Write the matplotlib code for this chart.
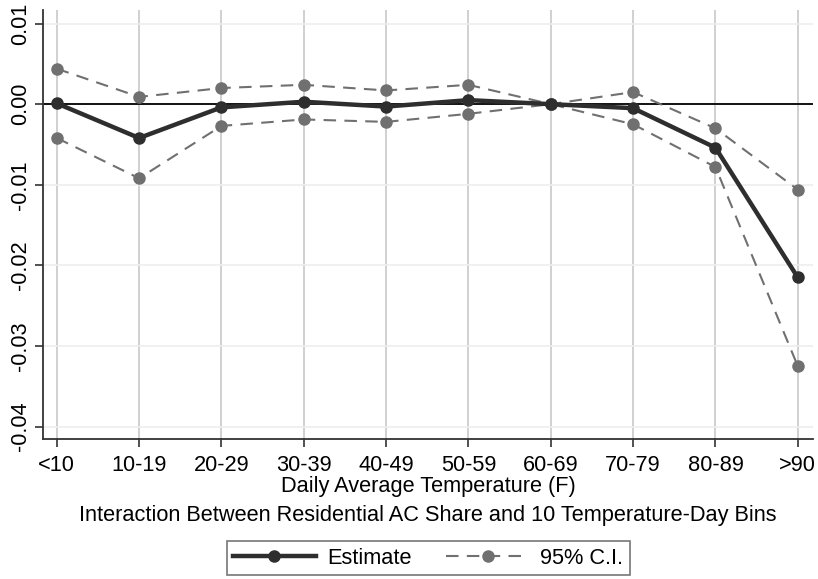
import numpy as np
import matplotlib
matplotlib.use("Agg")
import matplotlib.pyplot as plt

plt.rcParams['font.family'] = ['Liberation Sans', 'DejaVu Sans']

bins = ["<10", "10-19", "20-29", "30-39", "40-49", "50-59", "60-69", "70-79", "80-89", ">90"]
estimate = [0.0001, -0.0042, -0.0004, 0.0003, -0.0003, 0.0005, 0.0, -0.0005, -0.0054, -0.0215]
ci_upper = [0.0044, 0.0009, 0.0020, 0.0024, 0.0017, 0.0024, 0.0, 0.0015, -0.0030, -0.0106]
ci_lower = [-0.0042, -0.0092, -0.0027, -0.0019, -0.0022, -0.0012, 0.0, -0.0025, -0.0078, -0.0325]
yticks = [0.01, 0.0, -0.01, -0.02, -0.03, -0.04]

fs = 15.7

fig = plt.figure(figsize=(8.18, 5.79), dpi=100)
ax = fig.add_axes([0.053, 0.241, 0.941, 0.742])

x = np.arange(len(bins))

# grid: vertical stronger than horizontal
for xi in x:
    ax.axvline(xi, color="#c8c8c8", lw=1.2, zorder=0)
for yt in yticks:
    ax.axhline(yt, color="#eeeeee", lw=1.2, zorder=0)
ax.axhline(0, color="black", lw=1.3, zorder=1)

ax.plot(x, ci_upper, color="#707070", lw=1.5, ls=(0, (6, 4)), marker="o", ms=8,
        mfc="#707070", mec="#707070", zorder=2, label="95% C.I.")
ax.plot(x, ci_lower, color="#707070", lw=1.5, ls=(0, (6, 4)), marker="o", ms=8,
        mfc="#707070", mec="#707070", zorder=2)
ax.plot(x, estimate, color="#2e2e2e", lw=3.2, marker="o", ms=8,
        mfc="#2e2e2e", mec="#2e2e2e", zorder=3, label="Estimate")

ax.set_xlim(-0.163, 9.186)
ax.set_ylim(-0.0416, 0.0117)
ax.set_xticks(x)
ax.set_xticklabels(bins, fontsize=fs)
ax.set_yticks(yticks)
ax.set_yticklabels(["%.2f" % v for v in yticks], fontsize=fs, rotation=90, va="center")
ax.tick_params(axis="both", direction="out", length=6, width=1.2, color="#333333")
ax.tick_params(axis="x", pad=5)
ax.tick_params(axis="y", pad=3)

for s in ["top", "right"]:
    ax.spines[s].set_visible(False)
for s in ["left", "bottom"]:
    ax.spines[s].set_color("#333333")
    ax.spines[s].set_linewidth(1.3)

ax.set_xlabel("Daily Average Temperature (F)", fontsize=fs, labelpad=0)
fig.text(428 / 818, 1 - 515 / 579, "Interaction Between Residential AC Share and 10 Temperature-Day Bins",
         ha="center", va="center", fontsize=fs)

h, l = ax.get_legend_handles_labels()
leg = fig.legend(h[::-1], l[::-1], loc="center", bbox_to_anchor=(428 / 818, 1 - 558 / 579),
                 ncol=2, fontsize=fs, frameon=True, fancybox=False, handlelength=3.8,
                 columnspacing=1.6, borderpad=0.3, handletextpad=0.5)
leg.get_frame().set_edgecolor("#555555")
leg.get_frame().set_linewidth(1.2)

fig.savefig("out.png", dpi=100)
